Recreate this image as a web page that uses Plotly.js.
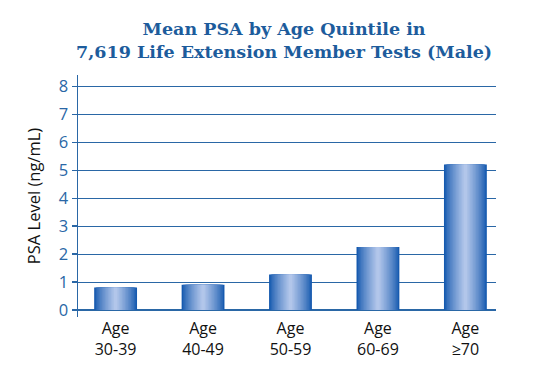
<!DOCTYPE html>
<html><head><meta charset="utf-8">
<script src="https://cdn.plot.ly/plotly-3.0.1.min.js"></script>
<style>html,body{margin:0;padding:0;background:#fff}#c{width:533px;height:368px}</style>
</head><body><div id="c"></div>
<script>
const categories = ["Age<br>30-39", "Age<br>40-49", "Age<br>50-59", "Age<br>60-69", "Age<br>≥70"];
const psaMean = [0.8, 0.9, 1.27, 2.25, 5.2];
const yTicks = [0, 1, 2, 3, 4, 5, 6, 7, 8];

// simulate horizontal gradient with overlaid bars of decreasing width
const nLayers = 14;
const dark = [22, 90, 175], light = [178, 198, 234];
const traces = [];
for (let i = 0; i < nLayers; i++) {
  const t = i / (nLayers - 1);
  const w = 0.49 * (1 - t * 0.92);
  const f = Math.pow(t, 0.8);
  const c = dark.map((d, k) => Math.round(d + (light[k] - d) * f));
  traces.push({
    type: 'bar', x: categories, y: psaMean,
    width: categories.map(() => w),
    marker: {color: `rgb(${c[0]},${c[1]},${c[2]})`, line: {width: 0}},
    hoverinfo: 'skip', showlegend: false
  });
}

const blue = '#2a67a6';
Plotly.newPlot('c', traces, {
  width: 533, height: 368,
  margin: {l: 78, r: 37, t: 75, b: 51},
  barmode: 'overlay',
  paper_bgcolor: '#fff', plot_bgcolor: '#fff',
  title: {
    text: 'Mean PSA by Age Quintile in<br>7,619 Life Extension Member Tests (Male)',
    x: 0.533, xref: 'container', xanchor: 'center',
    y: 0.905, yref: 'container', yanchor: 'top',
    font: {family: 'DejaVu Serif', size: 17.5, color: '#1d5c9c', weight: 'bold'}
  },
  xaxis: {
    type: 'category', range: [-0.43, 4.35],
    showline: false, showgrid: false, zeroline: false, ticks: '',
    tickfont: {family: 'Open Sans', size: 16, color: '#111'},
    ticklabelstandoff: 0
  },
  yaxis: {
    range: [-0.25, 8.4], tickvals: yTicks, ticktext: yTicks.map(String),
    showline: true, linecolor: blue, linewidth: 1.5,
    showgrid: true, gridcolor: blue, gridwidth: 1,
    zeroline: true, zerolinecolor: blue, zerolinewidth: 1.2,
    ticks: 'outside', ticklen: 5, tickcolor: blue, tickwidth: 1.2,
    tickfont: {family: 'Open Sans', size: 16.5, color: blue},
    title: {text: 'PSA Level (ng/mL)', font: {family: 'Open Sans', size: 16.5, color: '#111'}, standoff: 14}
  }
}, {staticPlot: true});
</script></body></html>
